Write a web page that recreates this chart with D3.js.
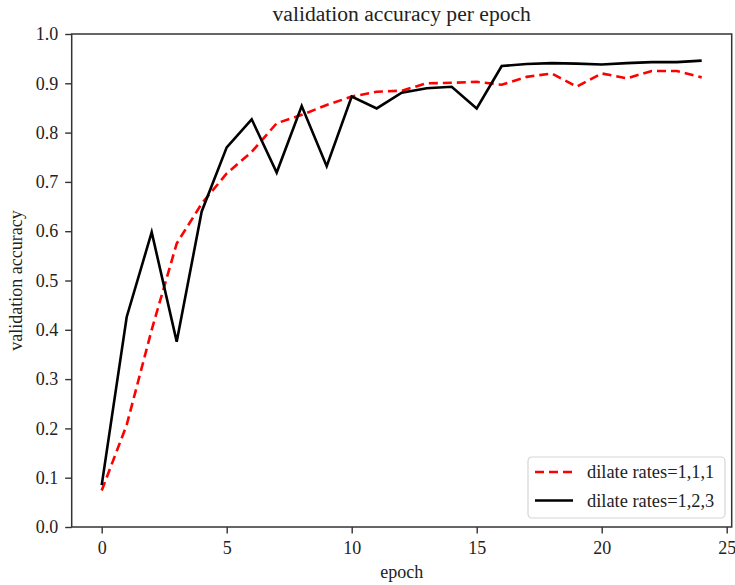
<!DOCTYPE html>
<html>
<head>
<meta charset="utf-8">
<script src="https://cdn.jsdelivr.net/npm/d3@7"></script>
<style>
	body { margin: 0; background: #fff; }
	text { font-family: "Liberation Serif", "DejaVu Serif", serif; fill: #222; }
</style>
</head>
<body>
<div id="chartDiv"></div>
<script>
var epochs = d3.range(0, 25);
// dilate rates=1,1,1 (red dashed)
var accRates111 = [0.074, 0.207, 0.400, 0.575, 0.656, 0.717, 0.761, 0.819, 0.836, 0.856,
	0.873, 0.883, 0.885, 0.900, 0.901, 0.903, 0.897, 0.913, 0.920, 0.893,
	0.920, 0.910, 0.925, 0.925, 0.912];
// dilate rates=1,2,3 (black)
var accRates123 = [0.085, 0.426, 0.598, 0.376, 0.640, 0.770, 0.827, 0.719, 0.854, 0.732,
	0.873, 0.849, 0.881, 0.890, 0.893, 0.849, 0.935, 0.939, 0.941, 0.940,
	0.938, 0.941, 0.943, 0.943, 0.946];
var xTicks = [0, 5, 10, 15, 20, 25];
var yTicks = [0.0, 0.1, 0.2, 0.3, 0.4, 0.5, 0.6, 0.7, 0.8, 0.9, 1.0];
var seriesNames = ["dilate rates=1,1,1", "dilate rates=1,2,3"];

var width = 735, height = 585;
var margin = {left: 71.7, right: 3.3, top: 34, bottom: 58};

var svg = d3.select("#chartDiv").append("svg")
	.attr("width", width).attr("height", height);

var x = d3.scaleLinear().domain([-1.2, 25.2]).range([margin.left, width - margin.right]);
var y = d3.scaleLinear().domain([0, 1]).range([height - margin.bottom, margin.top]);

// axes
var xAxis = svg.append("g")
	.attr("transform", "translate(0," + (height - margin.bottom) + ")")
	.call(d3.axisBottom(x).tickValues(xTicks).tickFormat(d3.format("d")).tickSize(6.5).tickPadding(7.5));
var yAxis = svg.append("g")
	.attr("transform", "translate(" + margin.left + ",0)")
	.call(d3.axisLeft(y).tickValues(yTicks).tickFormat(d3.format(".1f")).tickSize(6.5).tickPadding(7));

[xAxis, yAxis].forEach(function(ax) {
	ax.select(".domain").remove();
	ax.selectAll(".tick line").attr("stroke", "#333").attr("stroke-width", 1.4);
	ax.selectAll(".tick text").style("font-size", "18px").attr("fill", "#222");
});

// frame
svg.append("rect")
	.attr("x", margin.left).attr("y", margin.top)
	.attr("width", width - margin.right - margin.left)
	.attr("height", height - margin.bottom - margin.top)
	.attr("fill", "none").attr("stroke", "#333").attr("stroke-width", 1.5);

var line = d3.line().x(function(d, i) { return x(epochs[i]); }).y(function(d) { return y(d); });

svg.append("path").datum(accRates111)
	.attr("d", line)
	.attr("fill", "none").attr("stroke", "#ff0000").attr("stroke-width", 2.6)
	.attr("stroke-dasharray", "9,5");
svg.append("path").datum(accRates123)
	.attr("d", line)
	.attr("fill", "none").attr("stroke", "#000").attr("stroke-width", 2.6);

// title & labels
svg.append("text")
	.attr("x", (margin.left + width - margin.right) / 2).attr("y", 21)
	.attr("text-anchor", "middle").style("font-size", "21.6px")
	.text("validation accuracy per epoch");
svg.append("text")
	.attr("x", (margin.left + width - margin.right) / 2).attr("y", 578)
	.attr("text-anchor", "middle").style("font-size", "18px")
	.text("epoch");
svg.append("text")
	.attr("transform", "translate(22," + ((margin.top + height - margin.bottom) / 2) + ") rotate(-90)")
	.attr("text-anchor", "middle").style("font-size", "18px")
	.text("validation accuracy");

// legend
var legend = svg.append("g").attr("transform", "translate(528,457)");
legend.append("rect")
	.attr("width", 197).attr("height", 61).attr("rx", 4)
	.attr("fill", "#fff").attr("fill-opacity", 0.8)
	.attr("stroke", "#d6d6d6").attr("stroke-width", 1.2);
var entries = legend.selectAll(".entry").data(seriesNames).enter().append("g")
	.attr("class", "entry")
	.attr("transform", function(d, i) { return "translate(0," + (15 + i * 28.5) + ")"; });
entries.append("line")
	.attr("x1", 7).attr("x2", 45).attr("y1", 0).attr("y2", 0)
	.attr("stroke", function(d, i) { return i === 0 ? "#ff0000" : "#000"; })
	.attr("stroke-width", 2.6)
	.attr("stroke-dasharray", function(d, i) { return i === 0 ? "9,5" : null; });
entries.append("text")
	.attr("x", 59).attr("y", 6)
	.style("font-size", "18.4px")
	.text(function(d) { return d; });
</script>
</body>
</html>
